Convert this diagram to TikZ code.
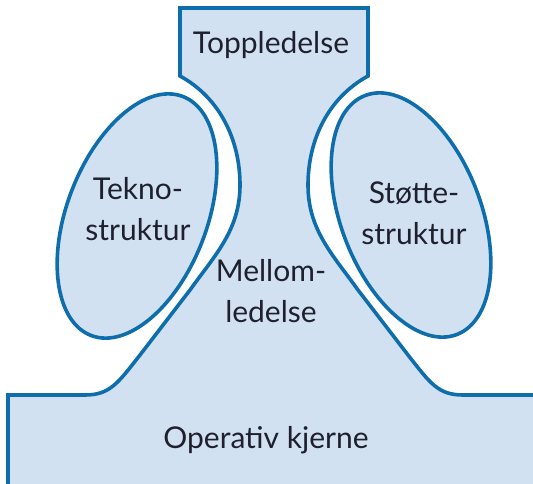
\documentclass[tikz,border=0pt]{standalone}
\usepackage{fontspec}
\setmainfont{Lato}
\definecolor{fillblue}{RGB}{210,225,242}
\definecolor{lineblue}{RGB}{14,110,172}
\definecolor{txt}{RGB}{30,32,45}
\begin{document}
\begin{tikzpicture}[x=1pt,y=-1pt,
  part/.style={fill=fillblue,draw=lineblue,line width=3.6pt},
  lbl/.style={inner sep=0pt,align=center,text=txt,font=\fontsize{30}{41}\selectfont}]
\useasboundingbox (0,0) rectangle (533,484);
\clip (0,0) rectangle (533,484);
% main body: top box, middle line, operating core
\path[part,line join=miter]
  (8,520) -- (8,395) -- (85,395)
  .. controls (110,395) and (118,383) .. (140,355)
  -- (190,290)
  .. controls (215,255) and (240,230) .. (240,185)
  .. controls (240,140) and (220,98) .. (180,76)
  -- (180,8) -- (368,8) -- (368,76)
  .. controls (328,98) and (308,140) .. (308,185)
  .. controls (308,230) and (333,255) .. (358,290)
  -- (408,355)
  .. controls (430,383) and (438,395) .. (463,395)
  -- (560,395) -- (560,520) -- cycle;
% support units
\path[part] (137,216) ellipse[x radius=128, y radius=70, rotate=69];
\path[part] (411,215) ellipse[x radius=128, y radius=70, rotate=-69];
% labels
\node[lbl] (top) at (271,45) {Toppledelse};
\node[lbl] (tekno) at (138,209) {Tekno-\\struktur};
\node[lbl] (stotte) at (414,213) {Støtte-\\struktur};
\node[lbl] (mellom) at (271,291) {Mellom-\\ledelse};
\node[lbl] (kjerne) at (266,440) {Operativ kjerne};
\end{tikzpicture}
\end{document}
